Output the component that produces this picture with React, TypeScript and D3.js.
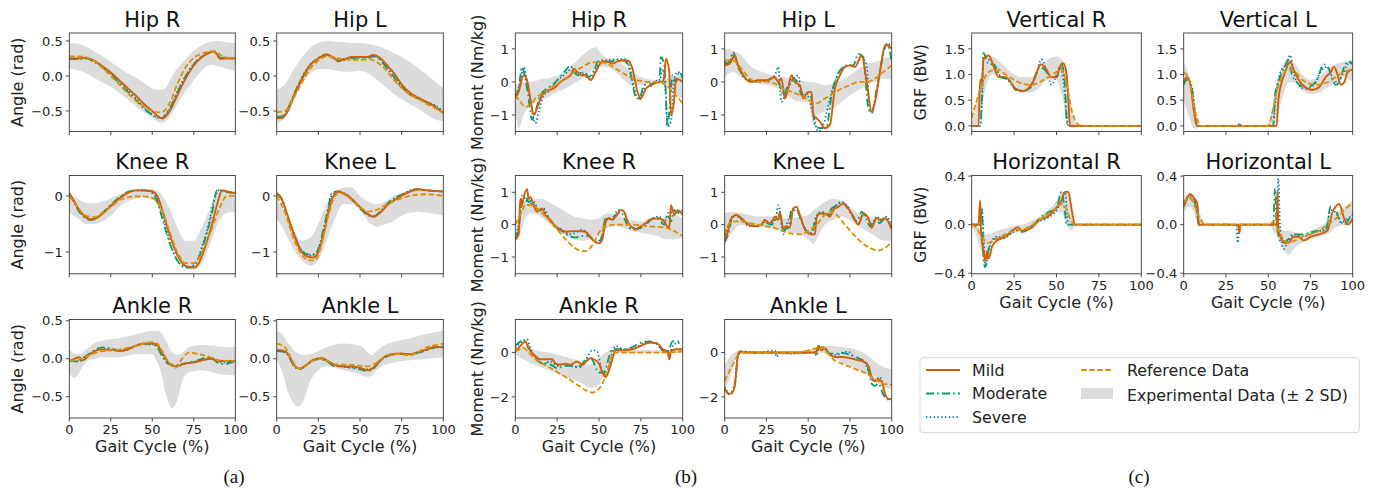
import React from "react";
import * as d3 from "d3";

type Pt = [number, number];
type Band = [number, number, number]; // [gait %, lower, upper]

// ---------- (a) joint angles (rad) ----------
const aHipR_band: Band[] = [[0,0.11,0.47],[5,0.08,0.46],[10,0.04,0.42],[15,-0.03,0.35],[20,-0.09,0.28],[25,-0.15,0.2],[30,-0.24,0.12],[35,-0.33,0.04],[40,-0.43,-0.02],[45,-0.52,-0.1],[50,-0.6,-0.18],[55,-0.67,-0.2],[58,-0.65,-0.17],[62,-0.53,0.0],[66,-0.37,0.13],[70,-0.22,0.24],[75,-0.06,0.36],[80,0.08,0.44],[85,0.16,0.49],[90,0.14,0.5],[95,0.1,0.48],[100,0.08,0.47]];
const aHipR_mild: Pt[] = [[0,0.25],[5,0.25],[10,0.26],[15,0.22],[20,0.14],[25,0.05],[30,-0.06],[35,-0.17],[40,-0.28],[45,-0.4],[50,-0.5],[53,-0.57],[56,-0.61],[58,-0.58],[61,-0.48],[65,-0.28],[70,-0.04],[75,0.15],[80,0.27],[84,0.33],[87,0.35],[89,0.31],[91,0.24],[93,0.25],[100,0.25]];
const aHipR_mod: Pt[] = [[0,0.24],[5,0.24],[10,0.25],[15,0.2],[20,0.12],[25,0.02],[30,-0.1],[35,-0.22],[40,-0.34],[45,-0.47],[50,-0.55],[53,-0.59],[56,-0.6],[58,-0.55],[61,-0.44],[65,-0.24],[70,-0.01],[75,0.17],[80,0.28],[84,0.33],[87,0.35],[89,0.31],[91,0.25],[93,0.26],[100,0.25]];
const aHipR_sev: Pt[] = [[0,0.25],[10,0.25],[20,0.13],[30,-0.08],[40,-0.32],[45,-0.45],[50,-0.56],[55,-0.6],[58,-0.56],[62,-0.4],[66,-0.18],[70,0.0],[75,0.17],[80,0.28],[87,0.35],[91,0.26],[100,0.26]];
const aHipR_ref: Pt[] = [[0,0.28],[5,0.28],[10,0.27],[15,0.21],[20,0.12],[25,0.0],[30,-0.12],[35,-0.24],[40,-0.35],[45,-0.44],[50,-0.5],[55,-0.52],[58,-0.48],[61,-0.36],[65,-0.12],[70,0.12],[75,0.26],[80,0.32],[85,0.35],[88,0.35],[92,0.28],[100,0.25]];

const aHipL_band: Band[] = [[0,-0.67,-0.2],[5,-0.6,-0.12],[10,-0.38,0.08],[15,-0.12,0.26],[20,0.03,0.4],[25,0.1,0.47],[30,0.1,0.5],[35,0.08,0.49],[40,0.06,0.48],[45,0.06,0.47],[50,0.07,0.47],[55,0.04,0.46],[60,-0.05,0.43],[65,-0.15,0.39],[70,-0.25,0.33],[75,-0.33,0.27],[80,-0.4,0.2],[85,-0.47,0.11],[90,-0.55,0.02],[95,-0.62,-0.08],[100,-0.65,-0.17]];
const aHipL_mild: Pt[] = [[0,-0.6],[3,-0.6],[6,-0.53],[10,-0.3],[15,-0.05],[20,0.15],[25,0.25],[30,0.31],[33,0.28],[37,0.22],[41,0.24],[45,0.27],[50,0.27],[54,0.27],[58,0.3],[62,0.26],[66,0.16],[70,0.05],[75,-0.12],[80,-0.24],[85,-0.31],[90,-0.37],[95,-0.44],[100,-0.53]];
const aHipL_mod: Pt[] = [[0,-0.58],[3,-0.58],[6,-0.5],[10,-0.28],[15,-0.04],[20,0.15],[25,0.26],[30,0.3],[33,0.27],[37,0.21],[41,0.25],[45,0.25],[50,0.27],[54,0.26],[58,0.28],[62,0.23],[66,0.12],[70,0.0],[75,-0.15],[80,-0.27],[85,-0.32],[90,-0.38],[95,-0.43],[100,-0.52]];
const aHipL_sev: Pt[] = [[0,-0.59],[4,-0.57],[8,-0.42],[12,-0.18],[18,0.1],[25,0.25],[30,0.3],[34,0.26],[38,0.21],[42,0.24],[48,0.26],[54,0.27],[58,0.29],[62,0.24],[68,0.06],[74,-0.13],[80,-0.26],[88,-0.35],[95,-0.42],[100,-0.51]];
const aHipL_ref: Pt[] = [[0,-0.52],[5,-0.5],[10,-0.32],[15,-0.1],[20,0.1],[25,0.22],[30,0.28],[35,0.26],[40,0.24],[45,0.23],[50,0.23],[55,0.24],[60,0.2],[65,0.1],[70,-0.05],[75,-0.17],[80,-0.27],[85,-0.33],[90,-0.4],[95,-0.46],[100,-0.53]];

const aKneeR_band: Band[] = [[0,-0.3,0.05],[5,-0.4,-0.05],[10,-0.5,-0.12],[15,-0.5,-0.13],[20,-0.45,-0.1],[25,-0.35,-0.04],[30,-0.2,0.02],[35,-0.1,0.06],[40,-0.05,0.1],[45,-0.02,0.12],[50,-0.05,0.12],[55,-0.3,0.04],[60,-0.7,-0.2],[65,-1.05,-0.55],[70,-1.25,-0.8],[75,-1.32,-0.8],[80,-1.2,-0.55],[85,-0.85,-0.2],[90,-0.45,0.12],[95,-0.3,0.1],[100,-0.28,0.02]];
const aKneeR_mild: Pt[] = [[0,0.05],[3,-0.1],[6,-0.25],[10,-0.38],[13,-0.42],[16,-0.4],[20,-0.32],[25,-0.18],[30,-0.05],[35,0.05],[40,0.1],[45,0.1],[50,0.08],[53,0.0],[56,-0.25],[60,-0.65],[65,-1.05],[70,-1.25],[75,-1.28],[78,-1.2],[82,-0.9],[86,-0.5],[90,-0.05],[92,0.1],[95,0.08],[100,0.05]];
const aKneeR_mod: Pt[] = [[0,0.05],[3,-0.12],[6,-0.28],[10,-0.4],[13,-0.43],[16,-0.4],[20,-0.3],[25,-0.16],[30,-0.03],[35,0.07],[40,0.1],[45,0.1],[50,0.05],[53,-0.1],[56,-0.4],[60,-0.8],[65,-1.15],[70,-1.28],[74,-1.27],[78,-1.1],[82,-0.75],[86,-0.3],[89,0.1],[92,0.1],[95,0.07],[100,0.05]];
const aKneeR_sev: Pt[] = [[0,0.04],[5,-0.22],[10,-0.39],[14,-0.42],[20,-0.31],[25,-0.17],[30,-0.04],[35,0.06],[40,0.1],[46,0.1],[50,0.06],[54,-0.12],[58,-0.55],[62,-0.95],[67,-1.22],[72,-1.27],[76,-1.2],[80,-0.9],[84,-0.5],[88,0.0],[90,0.1],[95,0.08],[100,0.05]];
const aKneeR_ref: Pt[] = [[0,0.0],[5,-0.2],[10,-0.35],[15,-0.38],[20,-0.3],[25,-0.2],[30,-0.08],[35,-0.03],[40,-0.01],[45,-0.01],[50,-0.04],[55,-0.2],[60,-0.6],[65,-1.0],[70,-1.2],[75,-1.2],[80,-1.0],[85,-0.65],[90,-0.25],[95,0.0],[100,0.0]];

const aKneeL_band: Band[] = [[0,-0.4,-0.05],[5,-0.65,-0.3],[10,-0.95,-0.6],[15,-1.15,-0.8],[20,-1.25,-0.75],[25,-1.15,-0.5],[30,-0.8,-0.15],[35,-0.4,0.05],[40,-0.15,0.15],[45,-0.15,0.15],[50,-0.25,0.0],[55,-0.45,-0.1],[60,-0.55,-0.15],[65,-0.5,-0.1],[70,-0.45,0.0],[75,-0.35,0.05],[80,-0.3,0.1],[85,-0.28,0.12],[90,-0.3,0.12],[95,-0.32,0.11],[100,-0.35,0.1]];
const aKneeL_mild: Pt[] = [[0,0.05],[3,-0.05],[6,-0.3],[10,-0.65],[14,-0.95],[18,-1.08],[22,-1.1],[25,-1.0],[28,-0.7],[31,-0.3],[34,0.0],[37,0.08],[40,0.05],[45,-0.05],[50,-0.2],[55,-0.33],[58,-0.37],[62,-0.3],[67,-0.15],[72,-0.05],[78,0.05],[85,0.12],[90,0.1],[100,0.08]];
const aKneeL_mod: Pt[] = [[0,0.05],[3,-0.07],[6,-0.32],[10,-0.65],[14,-0.93],[18,-1.04],[22,-1.05],[25,-0.95],[28,-0.6],[31,-0.2],[33,0.05],[36,0.08],[40,0.05],[45,-0.06],[50,-0.22],[55,-0.35],[58,-0.37],[62,-0.28],[67,-0.12],[72,-0.02],[78,0.06],[85,0.12],[90,0.1],[100,0.08]];
const aKneeL_sev: Pt[] = [[0,0.04],[4,-0.12],[8,-0.5],[12,-0.82],[16,-1.0],[20,-1.06],[24,-1.0],[27,-0.75],[30,-0.38],[33,0.0],[37,0.08],[42,0.02],[48,-0.15],[54,-0.32],[58,-0.36],[63,-0.26],[68,-0.1],[75,0.02],[83,0.12],[90,0.1],[100,0.08]];
const aKneeL_ref: Pt[] = [[0,0.0],[5,-0.3],[10,-0.75],[15,-1.05],[20,-1.15],[23,-1.15],[27,-0.85],[31,-0.35],[35,0.0],[38,0.05],[42,0.0],[46,-0.1],[50,-0.2],[55,-0.28],[60,-0.25],[65,-0.17],[70,-0.1],[80,0.0],[90,0.03],[100,0.0]];

const aAnkR_band: Band[] = [[0,-0.18,0.13],[3,-0.25,0.07],[6,-0.18,0.06],[10,-0.05,0.12],[15,0.0,0.2],[20,0.02,0.24],[30,0.02,0.27],[40,0.06,0.32],[50,0.06,0.37],[53,-0.05,0.37],[55,-0.15,0.35],[58,-0.45,0.25],[62,-0.65,0.08],[65,-0.55,0.05],[68,-0.3,0.08],[72,-0.18,0.15],[80,-0.15,0.18],[90,-0.2,0.16],[100,-0.22,0.15]];
const aAnkR_mild: Pt[] = [[0,-0.03],[3,0.0],[6,0.02],[8,-0.02],[12,0.05],[18,0.12],[25,0.12],[30,0.1],[35,0.12],[40,0.17],[45,0.2],[50,0.2],[53,0.18],[56,0.08],[60,-0.06],[64,-0.1],[70,-0.06],[75,-0.05],[80,-0.02],[85,0.0],[90,-0.03],[100,-0.03]];
const aAnkR_mod: Pt[] = [[0,-0.02],[3,-0.03],[6,-0.04],[9,0.02],[13,0.08],[18,0.14],[22,0.15],[26,0.13],[30,0.11],[35,0.13],[40,0.17],[45,0.2],[50,0.19],[53,0.15],[56,0.03],[60,-0.07],[65,-0.08],[70,-0.06],[75,-0.04],[80,0.0],[85,0.02],[90,-0.06],[93,-0.07],[100,-0.03]];
const aAnkR_sev: Pt[] = [[0,-0.03],[5,-0.03],[9,0.01],[14,0.08],[20,0.13],[28,0.11],[35,0.12],[42,0.19],[48,0.19],[52,0.18],[55,0.1],[59,-0.05],[64,-0.1],[72,-0.05],[80,-0.02],[86,0.0],[92,-0.05],[100,-0.04]];
const aAnkR_ref: Pt[] = [[0,-0.02],[5,-0.02],[10,0.03],[20,0.1],[30,0.12],[40,0.17],[45,0.2],[50,0.22],[53,0.2],[56,0.1],[60,-0.05],[64,-0.12],[68,0.0],[72,0.08],[78,0.06],[85,0.02],[90,-0.02],[100,-0.03]];

const aAnkL_band: Band[] = [[0,-0.02,0.37],[3,-0.15,0.33],[7,-0.45,0.2],[10,-0.58,0.12],[13,-0.63,0.07],[16,-0.55,0.05],[20,-0.3,0.06],[25,-0.15,0.1],[30,-0.1,0.15],[40,-0.15,0.2],[50,-0.2,0.17],[54,-0.24,0.1],[57,-0.22,0.05],[60,-0.15,0.1],[65,-0.08,0.18],[70,-0.05,0.22],[80,-0.02,0.27],[90,0.0,0.33],[100,0.02,0.37]];
const aAnkL_mild: Pt[] = [[0,0.12],[5,0.1],[8,0.02],[11,-0.1],[14,-0.13],[18,-0.08],[22,-0.01],[27,0.01],[30,-0.02],[35,-0.08],[40,-0.1],[45,-0.1],[50,-0.12],[55,-0.15],[58,-0.12],[62,-0.02],[66,0.04],[70,0.06],[75,0.07],[80,0.06],[85,0.09],[90,0.12],[95,0.16],[100,0.15]];
const aAnkL_mod: Pt[] = [[0,0.1],[5,0.09],[8,0.0],[11,-0.11],[14,-0.14],[18,-0.08],[22,-0.02],[27,0.0],[30,-0.03],[35,-0.1],[40,-0.1],[45,-0.12],[50,-0.14],[55,-0.16],[58,-0.13],[62,-0.03],[66,0.03],[70,0.06],[75,0.06],[80,0.05],[85,0.08],[90,0.11],[95,0.15],[100,0.16]];
const aAnkL_sev: Pt[] = [[0,0.11],[6,0.07],[10,-0.08],[14,-0.13],[19,-0.06],[25,0.0],[30,-0.03],[36,-0.09],[42,-0.11],[48,-0.12],[55,-0.14],[60,-0.08],[65,0.02],[72,0.06],[80,0.06],[88,0.1],[95,0.15],[100,0.15]];
const aAnkL_ref: Pt[] = [[0,0.2],[5,0.15],[10,-0.05],[13,-0.13],[17,-0.1],[22,-0.02],[27,0.0],[35,-0.07],[45,-0.08],[55,-0.1],[60,-0.05],[65,0.03],[70,0.07],[80,0.05],[90,0.15],[100,0.2]];

// ---------- (b) joint moments (Nm/kg) ----------
const bHipR_band: Band[] = [[0,-0.9,-0.1],[2,-1.4,-0.05],[5,-1.0,0.0],[10,-0.7,0.0],[15,-0.55,0.08],[20,-0.45,0.12],[25,-0.3,0.2],[30,-0.2,0.33],[35,-0.05,0.55],[40,0.1,0.8],[45,0.3,1.0],[48,0.42,1.05],[52,0.45,0.82],[55,0.45,0.72],[60,0.3,0.7],[65,0.05,0.5],[70,-0.1,0.3],[75,-0.1,0.15],[80,-0.05,0.08],[85,0.0,0.05],[90,-0.1,0.1],[95,-0.4,0.2],[100,-0.5,0.15]];
const bHipR_mild: Pt[] = [[0,-0.5],[2,-0.3],[5,0.2],[7,0.05],[9,-0.5],[11,-1.0],[13,-0.8],[16,-0.4],[20,-0.25],[23,-0.2],[27,0.0],[30,0.1],[33,0.2],[35,0.4],[37,0.3],[40,0.2],[42,0.2],[45,0.05],[48,0.3],[52,0.62],[55,0.62],[58,0.55],[61,0.62],[64,0.65],[67,0.65],[70,0.4],[73,-0.3],[75,-0.5],[78,-0.2],[82,-0.08],[86,0.0],[88,0.0],[89,0.2],[90,0.7],[92,0.3],[93,-1.0],[95,-0.5],[96,0.1],[100,0.0]];
const bHipR_mod: Pt[] = [[0,-0.45],[2,-0.2],[4,0.45],[6,0.1],[8,-0.5],[10,-1.15],[12,-0.9],[15,-0.4],[19,-0.2],[22,-0.1],[26,0.1],[30,0.35],[33,0.5],[35,0.3],[38,0.2],[41,0.3],[44,0.15],[47,0.35],[50,0.65],[54,0.6],[57,0.62],[61,0.65],[64,0.66],[67,0.55],[69,0.2],[72,-0.45],[74,-0.5],[77,-0.1],[82,-0.05],[86,0.05],[87,0.75],[89,0.5],[91,-1.35],[92,-0.9],[94,0.2],[96,0.0],[98,0.3],[100,0.1]];
const bHipR_sev: Pt[] = [[0,-0.4],[3,0.0],[5,0.45],[7,0.0],[9,-0.6],[12,-1.25],[14,-0.9],[17,-0.4],[21,-0.25],[25,0.05],[29,0.2],[32,0.35],[34,0.45],[36,0.3],[40,0.25],[44,0.1],[48,0.4],[51,0.65],[55,0.65],[60,0.68],[65,0.7],[68,0.5],[71,-0.2],[74,-0.55],[77,-0.2],[82,-0.1],[85,0.05],[86,-0.05],[88,0.4],[90,-0.5],[91,-1.35],[93,-1.2],[95,0.1],[97,0.3],[100,0.2]];
const bHipR_ref: Pt[] = [[0,-0.4],[3,-0.6],[6,-0.75],[9,-0.7],[12,-0.5],[18,-0.3],[25,-0.05],[30,0.1],[35,0.3],[40,0.45],[45,0.58],[50,0.6],[55,0.55],[60,0.4],[65,0.25],[70,0.1],[75,0.03],[80,0.0],[85,0.0],[90,-0.1],[95,-0.35],[100,-0.65]];

const bHipL_band: Band[] = [[0,0.15,1.0],[5,0.3,0.95],[10,0.15,0.8],[15,0.05,0.5],[20,-0.05,0.35],[25,-0.1,0.25],[30,-0.15,0.2],[35,-0.3,0.15],[40,-0.5,0.1],[45,-0.6,0.05],[50,-0.6,0.0],[53,-1.3,0.0],[56,-1.0,-0.05],[60,-0.9,-0.1],[65,-0.8,-0.05],[70,-0.6,0.05],[75,-0.4,0.2],[80,-0.25,0.4],[85,-0.1,0.55],[90,0.0,0.6],[95,0.1,0.7],[100,0.05,0.8]];
const bHipL_mild: Pt[] = [[0,0.5],[3,0.55],[6,0.8],[8,0.5],[10,0.3],[15,0.0],[20,0.05],[25,0.05],[30,0.15],[32,0.0],[34,0.1],[36,-0.5],[38,-0.2],[40,0.2],[42,0.0],[45,-0.1],[47,-0.5],[50,-0.3],[52,-0.3],[53,-1.0],[55,-1.1],[57,-1.2],[60,-1.4],[63,-1.3],[66,-0.2],[69,0.2],[72,0.45],[75,0.5],[78,0.45],[82,0.8],[85,0.0],[88,-0.9],[90,-0.6],[93,0.3],[96,1.1],[98,1.1],[100,1.0]];
const bHipL_mod: Pt[] = [[0,0.55],[3,0.6],[5,0.9],[8,0.45],[11,0.2],[15,0.05],[20,0.0],[25,0.05],[30,0.1],[33,-0.1],[35,-0.4],[38,-0.1],[41,0.1],[44,-0.05],[46,-0.4],[49,-0.35],[52,-0.5],[54,-1.3],[57,-1.4],[61,-1.35],[64,-0.4],[67,0.15],[70,0.4],[73,0.5],[77,0.5],[80,0.85],[83,0.75],[86,-0.8],[88,-0.95],[91,-0.2],[94,0.6],[97,1.15],[99,0.9],[100,0.6]];
const bHipL_sev: Pt[] = [[0,0.6],[3,0.6],[5,0.85],[8,0.5],[12,0.1],[18,0.0],[25,0.05],[30,0.2],[32,0.45],[34,-0.6],[37,-0.3],[40,0.0],[44,0.2],[46,-0.3],[50,-0.45],[53,-1.0],[56,-1.5],[59,-1.3],[63,-0.5],[66,0.0],[70,0.4],[74,0.5],[79,0.55],[82,0.75],[85,0.5],[87,-0.9],[89,-0.8],[92,0.0],[95,0.9],[98,1.15],[100,1.0]];
const bHipL_ref: Pt[] = [[0,0.65],[5,0.65],[10,0.4],[15,0.1],[20,0.0],[25,0.0],[30,-0.05],[35,-0.2],[40,-0.3],[45,-0.4],[50,-0.55],[55,-0.65],[60,-0.5],[65,-0.35],[70,-0.2],[75,-0.1],[80,0.0],[85,0.0],[90,0.1],[95,0.3],[100,0.5]];

const bKneeR_band: Band[] = [[0,-0.55,-0.2],[3,-0.3,0.4],[6,0.2,0.75],[10,0.35,0.8],[15,0.25,0.8],[20,0.05,0.7],[25,-0.15,0.55],[30,-0.35,0.4],[35,-0.45,0.25],[40,-0.5,0.2],[45,-0.45,0.15],[50,-0.35,0.2],[55,-0.1,0.35],[60,-0.05,0.3],[65,-0.1,0.2],[70,-0.2,0.15],[75,-0.25,0.1],[80,-0.3,0.1],[85,-0.35,0.15],[90,-0.45,0.25],[95,-0.45,0.3],[100,-0.4,0.2]];
const bKneeR_mild: Pt[] = [[0,-0.45],[2,-0.3],[3,0.8],[4,0.6],[5,0.85],[7,1.1],[8,0.8],[9,0.85],[11,0.6],[13,0.4],[16,0.5],[18,0.3],[21,0.15],[24,-0.05],[26,-0.12],[30,-0.22],[34,-0.2],[38,-0.2],[42,-0.22],[45,-0.4],[48,-0.55],[50,-0.58],[52,-0.45],[54,0.1],[56,0.2],[58,0.15],[60,0.25],[63,0.45],[65,0.4],[67,0.1],[70,-0.1],[72,-0.15],[75,-0.05],[78,0.05],[80,0.15],[85,0.2],[88,0.15],[92,-0.1],[93,0.6],[95,0.3],[97,0.45],[100,0.3]];
const bKneeR_mod: Pt[] = [[0,-0.45],[2,-0.1],[4,0.7],[6,0.9],[8,0.7],[10,0.75],[12,0.5],[15,0.45],[18,0.35],[21,0.1],[24,-0.1],[28,-0.2],[32,-0.35],[36,-0.4],[40,-0.35],[44,-0.35],[47,-0.5],[50,-0.55],[52,-0.3],[54,0.2],[57,0.2],[60,0.3],[63,0.38],[65,0.2],[68,-0.1],[71,-0.15],[75,-0.1],[80,0.1],[83,0.2],[86,0.15],[89,0.0],[91,0.3],[93,0.1],[95,0.45],[98,0.35],[100,0.4]];
const bKneeR_sev: Pt[] = [[0,-0.4],[2,0.0],[4,0.9],[6,0.8],[8,0.6],[11,0.7],[14,0.45],[17,0.5],[20,0.2],[24,-0.05],[28,-0.15],[32,-0.3],[36,-0.25],[40,-0.15],[43,-0.3],[46,-0.45],[49,-0.5],[52,-0.35],[55,0.2],[58,0.15],[61,0.45],[64,0.45],[66,0.25],[69,-0.1],[73,-0.1],[78,0.0],[82,0.2],[86,0.25],[89,0.1],[92,0.4],[95,0.35],[100,0.45]];
const bKneeR_ref: Pt[] = [[0,0.0],[3,0.3],[6,0.6],[10,0.6],[15,0.4],[20,0.15],[25,-0.15],[30,-0.45],[35,-0.7],[40,-0.82],[43,-0.8],[47,-0.55],[50,-0.25],[55,-0.02],[60,0.0],[70,0.0],[80,-0.05],[90,-0.1],[95,-0.2],[100,-0.35]];

const bKneeL_band: Band[] = [[0,-0.6,0.35],[5,-0.2,0.4],[10,0.0,0.35],[15,-0.05,0.3],[20,-0.05,0.25],[25,-0.1,0.25],[30,-0.15,0.25],[35,-0.2,0.2],[40,-0.25,0.2],[45,-0.3,0.25],[50,-0.45,0.3],[53,-0.6,0.45],[56,-0.35,0.55],[60,0.0,0.7],[65,0.15,0.8],[70,0.25,0.75],[75,0.15,0.55],[80,-0.05,0.35],[85,-0.2,0.25],[90,-0.35,0.2],[95,-0.5,0.2],[100,-0.5,0.1]];
const bKneeL_mild: Pt[] = [[0,-0.5],[2,-0.2],[4,0.2],[7,0.3],[10,0.2],[14,0.0],[18,-0.05],[22,0.0],[24,0.15],[26,0.05],[28,0.05],[30,0.25],[32,0.15],[33,0.4],[35,-0.1],[37,-0.05],[39,-0.1],[41,0.5],[43,0.55],[45,0.3],[48,-0.15],[52,-0.3],[54,-0.3],[55,0.2],[57,0.35],[60,0.35],[63,0.25],[65,0.45],[68,0.55],[71,0.65],[74,0.5],[77,0.25],[80,0.0],[83,0.35],[86,0.2],[88,-0.1],[91,0.2],[93,0.15],[96,0.2],[100,-0.15]];
const bKneeL_mod: Pt[] = [[0,-0.55],[2,-0.3],[5,0.25],[8,0.25],[11,0.15],[15,0.0],[20,-0.05],[25,0.05],[28,0.0],[31,0.2],[33,0.3],[35,-0.15],[38,-0.1],[40,0.45],[43,0.45],[46,0.1],[49,-0.2],[52,-0.3],[55,0.3],[58,0.35],[61,0.3],[64,0.5],[67,0.6],[70,0.7],[73,0.55],[76,0.3],[79,0.1],[82,0.4],[85,0.15],[87,-0.05],[90,0.15],[93,0.05],[96,0.2],[100,-0.1]];
const bKneeL_sev: Pt[] = [[0,-0.45],[3,0.1],[6,0.3],[10,0.15],[15,-0.05],[20,-0.05],[25,0.1],[29,0.1],[31,0.3],[32,0.6],[33,0.45],[35,-0.3],[37,0.0],[40,0.35],[42,0.55],[45,0.25],[48,-0.1],[52,-0.25],[55,0.25],[58,0.4],[62,0.3],[66,0.55],[70,0.7],[73,0.6],[76,0.35],[80,0.05],[83,0.3],[86,0.2],[88,0.0],[91,0.25],[94,0.1],[97,0.25],[100,-0.1]];
const bKneeL_ref: Pt[] = [[0,-0.3],[3,0.05],[6,0.1],[10,0.1],[15,0.05],[20,0.0],[25,-0.05],[30,-0.1],[35,-0.2],[40,-0.28],[45,-0.3],[50,-0.2],[55,0.0],[60,0.3],[63,0.4],[67,0.3],[72,0.0],[77,-0.3],[82,-0.55],[87,-0.72],[92,-0.8],[95,-0.75],[100,-0.55]];

const bAnkR_band: Band[] = [[0,-0.1,0.1],[5,-0.3,0.3],[10,-0.5,0.15],[15,-0.65,0.05],[20,-0.8,0.0],[25,-0.95,-0.1],[30,-1.1,-0.2],[35,-1.25,-0.3],[40,-1.4,-0.45],[45,-1.6,-0.55],[48,-1.55,-0.35],[52,-1.2,-0.1],[55,-0.6,0.05],[58,-0.05,0.12],[60,-0.02,0.12],[70,-0.02,0.12],[80,-0.02,0.12],[90,-0.02,0.12],[100,-0.02,0.12]];
const bAnkR_mild: Pt[] = [[0,0.05],[3,0.3],[6,0.5],[8,0.2],[11,-0.1],[15,-0.3],[18,-0.3],[22,-0.3],[24,-0.5],[27,-0.55],[30,-0.5],[33,-0.55],[37,-0.4],[40,-0.55],[43,-0.35],[45,-0.25],[47,-0.3],[50,-0.5],[52,-0.9],[54,-1.1],[56,-0.8],[58,-0.3],[60,0.1],[65,0.1],[70,0.15],[75,0.3],[80,0.45],[85,0.4],[88,0.15],[91,0.05],[92,-0.3],[93,0.05],[96,0.15],[100,0.15]];
const bAnkR_mod: Pt[] = [[0,0.3],[5,0.55],[8,0.2],[15,-0.45],[20,-0.5],[25,-0.7],[30,-0.6],[35,-0.6],[38,-0.7],[42,-0.3],[45,-0.25],[50,-0.9],[53,-0.9],[56,-0.2],[58,0.15],[65,0.15],[70,0.25],[75,0.45],[80,0.5],[85,0.4],[88,0.1],[91,0.05],[94,0.5],[100,0.5]];
const bAnkR_sev: Pt[] = [[0,0.2],[4,0.5],[7,0.6],[9,0.2],[13,-0.3],[17,-0.5],[21,-0.4],[25,-0.6],[29,-0.5],[33,-0.6],[37,-0.65],[40,-0.5],[43,-0.2],[46,0.1],[49,0.05],[51,-0.6],[54,-1.0],[56,-0.6],[58,0.0],[60,0.3],[65,0.15],[72,0.25],[78,0.45],[84,0.4],[88,0.1],[92,0.0],[95,0.4],[100,0.45]];
const bAnkR_ref: Pt[] = [[0,0.05],[5,0.2],[8,0.0],[12,-0.3],[20,-0.65],[30,-1.1],[38,-1.5],[42,-1.7],[46,-1.8],[49,-1.7],[52,-1.4],[55,-0.8],[58,-0.1],[60,0.0],[70,0.0],[80,0.0],[90,0.0],[100,0.05]];

const bAnkL_band: Band[] = [[0,-1.6,-0.6],[3,-1.2,-0.2],[6,-0.4,0.0],[8,-0.1,0.05],[10,-0.05,0.05],[20,-0.05,0.05],[40,-0.1,0.05],[50,-0.05,0.1],[55,0.0,0.25],[60,-0.05,0.3],[65,-0.2,0.3],[70,-0.45,0.25],[75,-0.6,0.2],[80,-0.8,0.1],[85,-1.0,-0.1],[90,-1.3,-0.4],[95,-1.55,-0.65],[100,-1.65,-0.75]];
const bAnkL_mild: Pt[] = [[0,-1.6],[2,-1.85],[4,-1.85],[6,-1.5],[8,-0.1],[9,0.05],[12,0.0],[20,0.0],[30,0.0],[40,0.0],[50,0.0],[55,0.0],[56,0.3],[58,0.1],[60,0.2],[63,-0.1],[66,-0.2],[70,-0.2],[75,-0.25],[80,-0.35],[83,-0.4],[86,-0.6],[88,-1.1],[90,-1.3],[92,-1.2],[94,-1.3],[96,-1.85],[98,-2.1],[100,-2.1]];
const bAnkL_mod: Pt[] = [[0,-1.6],[3,-1.9],[6,-1.5],[8,-0.1],[10,0.05],[20,0.0],[30,0.0],[40,0.0],[50,0.0],[54,0.0],[56,0.2],[58,0.25],[60,0.1],[63,-0.05],[67,-0.05],[70,0.0],[75,-0.1],[80,-0.25],[85,-0.5],[88,-1.4],[90,-1.5],[92,-1.4],[95,-1.9],[100,-2.2]];
const bAnkL_sev: Pt[] = [[0,-1.55],[3,-1.85],[6,-1.4],[8,-0.15],[10,0.05],[20,0.0],[30,0.1],[31,-0.2],[33,0.0],[40,-0.05],[50,0.0],[54,0.0],[55,-0.15],[57,0.3],[59,0.25],[62,0.0],[66,-0.1],[70,-0.05],[74,0.05],[78,-0.3],[83,-0.4],[86,-0.8],[89,-1.3],[91,-1.2],[93,-1.1],[96,-1.9],[100,-2.15]];
const bAnkL_ref: Pt[] = [[0,-1.3],[3,-0.8],[6,-0.4],[8,-0.1],[10,0.0],[20,0.0],[30,0.0],[40,0.0],[50,0.1],[55,0.2],[58,0.25],[62,-0.05],[65,-0.3],[70,-0.5],[75,-0.65],[80,-0.8],[85,-0.95],[90,-1.2],[95,-1.4],[100,-1.45]];

// ---------- (c) ground reaction forces (BW) ----------
const cVertR_band: Band[] = [[0,0.0,0.05],[2,0.0,0.3],[5,0.2,0.9],[8,0.7,1.35],[12,1.0,1.35],[18,1.0,1.2],[25,0.8,1.0],[30,0.65,0.95],[35,0.65,0.95],[40,0.75,1.1],[45,0.9,1.3],[50,0.9,1.35],[53,0.6,1.3],[56,0.15,1.0],[58,-0.02,0.5],[60,-0.05,0.15],[62,0.0,0.02],[65,0.0,0.0],[100,0.0,0.0]];
const cVertR_mild: Pt[] = [[0,0.0],[4,0.0],[5,0.9],[6,0.85],[7,1.3],[10,1.37],[13,1.15],[16,0.95],[20,0.95],[23,0.85],[26,0.72],[30,0.68],[33,0.72],[36,0.85],[39,1.1],[41,1.2],[44,1.1],[47,0.95],[50,0.95],[52,1.15],[54,1.22],[56,1.0],[57,0.5],[58,0.0],[100,0.0]];
const cVertR_mod: Pt[] = [[0,0.0],[5,0.0],[6,0.5],[7,1.42],[8,1.35],[10,1.2],[13,1.2],[17,0.95],[22,0.9],[26,0.7],[30,0.68],[35,0.75],[40,1.15],[43,1.1],[47,0.95],[50,0.95],[53,1.2],[55,0.8],[56,0.1],[57,0.0],[100,0.0]];
const cVertR_sev: Pt[] = [[0,0.0],[5,0.0],[6,0.4],[7,1.35],[9,1.3],[12,1.25],[16,1.0],[21,0.9],[26,0.72],[30,0.68],[34,0.75],[38,1.0],[41,1.3],[44,1.1],[47,0.8],[49,0.9],[52,1.15],[54,0.9],[56,0.2],[57,0.0],[100,0.0]];
const cVertR_ref: Pt[] = [[0,0.15],[3,0.5],[6,0.8],[10,1.05],[15,1.1],[20,1.0],[25,0.9],[30,0.82],[35,0.8],[40,0.85],[45,0.95],[50,1.05],[53,1.1],[56,0.8],[59,0.3],[62,0.05],[65,0.0],[100,0.0]];

const cVertL_band: Band[] = [[0,0.5,1.25],[3,0.2,1.0],[6,-0.05,0.5],[8,-0.05,0.05],[10,0.0,0.0],[50,0.0,0.0],[52,0.0,0.3],[55,0.15,0.8],[58,0.5,1.15],[62,0.85,1.3],[66,0.85,1.2],[70,0.7,1.0],[75,0.62,0.9],[80,0.65,0.95],[85,0.75,1.1],[90,0.85,1.2],[95,0.95,1.25],[100,0.85,1.3]];
const cVertL_mild: Pt[] = [[0,0.85],[2,0.95],[4,0.8],[6,0.3],[8,0.0],[55,0.0],[56,0.5],[58,0.85],[60,1.05],[63,1.25],[65,1.1],[68,0.9],[72,0.75],[76,0.7],[80,0.75],[84,0.95],[87,1.05],[89,1.15],[91,1.0],[93,0.8],[95,0.85],[97,1.05],[100,1.1]];
const cVertL_mod: Pt[] = [[0,0.8],[2,0.9],[5,0.7],[7,0.1],[8,0.0],[53,0.0],[54,0.6],[57,0.95],[60,1.15],[62,1.3],[64,1.0],[67,0.85],[72,0.75],[78,0.85],[83,1.2],[86,1.1],[88,0.9],[90,0.8],[92,0.85],[95,1.15],[97,1.25],[100,1.2]];
const cVertL_sev: Pt[] = [[0,0.85],[2,0.95],[5,0.75],[7,0.2],[8,0.0],[32,0.0],[33,0.06],[34,0.0],[53,0.0],[54,0.4],[56,0.9],[58,1.1],[61,1.2],[63,1.38],[65,1.05],[68,0.8],[72,0.72],[77,0.8],[82,1.1],[85,1.15],[88,0.95],[91,0.85],[94,1.0],[97,1.2],[100,1.25]];
const cVertL_ref: Pt[] = [[0,1.05],[3,0.9],[5,0.6],[7,0.25],[9,0.05],[11,0.0],[50,0.0],[52,0.2],[55,0.65],[58,0.95],[62,1.1],[66,1.05],[70,0.9],[75,0.82],[80,0.8],[85,0.85],[90,0.95],[95,1.05],[100,1.1]];

const cHorR_band: Band[] = [[0,-0.02,0.02],[3,-0.1,0.0],[5,-0.2,-0.04],[7,-0.25,-0.06],[9,-0.22,-0.08],[12,-0.15,-0.07],[15,-0.12,-0.05],[20,-0.1,-0.03],[25,-0.07,-0.01],[30,-0.05,0.0],[35,-0.02,0.03],[40,0.02,0.07],[45,0.05,0.12],[50,0.1,0.2],[53,0.1,0.27],[56,0.0,0.27],[58,-0.05,0.2],[60,-0.03,0.05],[62,0.0,0.0],[100,0.0,0.0]];
const cHorR_mild: Pt[] = [[0,0.0],[4,0.0],[5,0.2],[5.5,-0.05],[7,-0.22],[8,-0.3],[9,-0.22],[10,-0.28],[12,-0.18],[15,-0.13],[20,-0.1],[25,-0.04],[27,-0.02],[30,-0.05],[35,-0.03],[40,0.04],[45,0.07],[50,0.14],[53,0.2],[55,0.27],[57,0.27],[59,0.12],[61,0.0],[100,0.0]];
const cHorR_mod: Pt[] = [[0,0.0],[5,0.0],[6,0.13],[7,-0.3],[8,-0.35],[10,-0.2],[13,-0.12],[18,-0.12],[25,-0.04],[30,-0.06],[35,-0.02],[40,0.05],[45,0.1],[50,0.14],[53,0.27],[55,0.1],[56,0.0],[100,0.0]];
const cHorR_sev: Pt[] = [[0,0.0],[5,0.0],[6,0.14],[7,-0.1],[8,-0.35],[10,-0.22],[14,-0.1],[20,-0.1],[26,-0.05],[32,-0.04],[38,0.02],[44,0.05],[50,0.12],[53,0.2],[55,0.27],[57,0.0],[100,0.0]];
const cHorR_ref: Pt[] = [[0,0.0],[3,-0.03],[5,-0.08],[8,-0.14],[10,-0.15],[14,-0.12],[20,-0.08],[25,-0.05],[30,-0.04],[35,-0.01],[40,0.04],[45,0.09],[50,0.14],[53,0.17],[55,0.15],[58,0.05],[61,0.0],[100,0.0]];

const cHorL_band: Band[] = [[0,0.1,0.2],[3,0.15,0.26],[6,0.1,0.25],[9,-0.02,0.12],[12,0.0,0.02],[15,0.0,0.0],[50,0.0,0.0],[53,-0.05,0.02],[56,-0.12,0.0],[59,-0.2,-0.05],[62,-0.25,-0.05],[65,-0.2,-0.06],[70,-0.15,-0.08],[75,-0.12,-0.05],[80,-0.1,-0.02],[85,-0.08,0.03],[90,-0.02,0.1],[95,0.0,0.15],[100,0.02,0.2]];
const cHorL_mild: Pt[] = [[0,0.15],[2,0.22],[4,0.25],[6,0.22],[8,0.18],[9,0.0],[32,0.0],[33,-0.07],[33.5,0.0],[55,0.0],[55.5,0.28],[56,-0.05],[58,-0.12],[60,-0.15],[62,-0.15],[65,-0.1],[68,-0.1],[71,-0.13],[75,-0.1],[80,-0.08],[85,-0.05],[88,0.1],[90,0.15],[92,0.17],[95,0.05],[97,0.0],[100,0.05]];
const cHorL_mod: Pt[] = [[0,0.15],[3,0.22],[6,0.2],[8,0.08],[9,0.0],[53,0.0],[54,0.3],[55,0.0],[58,-0.15],[62,-0.12],[65,-0.08],[70,-0.08],[80,-0.05],[84,-0.05],[87,0.15],[90,0.12],[92,0.05],[95,0.0],[98,0.05],[100,0.08]];
const cHorL_sev: Pt[] = [[0,0.16],[3,0.23],[6,0.21],[8,0.1],[9,0.0],[31,0.0],[32,-0.15],[33,0.0],[55,0.0],[56,0.38],[57,0.0],[59,-0.2],[62,-0.13],[65,-0.08],[70,-0.1],[78,-0.06],[84,-0.04],[87,0.12],[90,0.1],[93,0.02],[97,0.05],[100,0.08]];
const cHorL_ref: Pt[] = [[0,0.18],[3,0.22],[5,0.2],[8,0.1],[11,0.02],[13,0.0],[50,0.0],[53,0.02],[55,-0.02],[58,-0.1],[62,-0.15],[66,-0.13],[70,-0.1],[75,-0.08],[80,-0.05],[85,0.0],[90,0.05],[95,0.12],[100,0.18]];

// ---------- axes ticks / labels ----------
const gaitTicks = [0, 25, 50, 75, 100];
const hipAngTicks = [-0.5, 0, 0.5];
const kneeAngTicks = [-1, 0];
const ankAngTicks = [-0.5, 0, 0.5];
const momTicks = [-1, 0, 1];
const ankMomTicks = [-2, 0];
const vertTicks = [0, 0.5, 1, 1.5];
const horTicks = [-0.4, 0, 0.4];
const legendNames = ["Mild", "Moderate", "Severe", "Reference Data", "Experimental Data (\u00b1 2 SD)"];

const COLORS = { mild: "#d55e00", mod: "#029e73", sev: "#0173b2", ref: "#de8f05", band: "#dcdcdc" };
const FONT = "DejaVu Sans, Verdana, sans-serif";
const DASH = { mod: "8,3.2,1.6,3.2", sev: "1.4,2.4", ref: "5.5,2.6" };

const ROW_TOP = [33, 175.5, 319.5];
const ROW_H = [98.5, 98.3, 98.5];

type Spec = {
  key: string; x0: number; x1: number; row: number; title: string;
  dom: [number, number]; ticks: number[]; fmt: string;
  band: Band[]; ref: Pt[]; mild: Pt[]; mod: Pt[]; sev: Pt[];
  xLab: boolean; yLab?: string; yLabX?: number;
};

const A1: [number, number] = [69.3, 235.3], A2: [number, number] = [276.7, 443.3];
const B1: [number, number] = [515.3, 682.7], B2: [number, number] = [724.7, 891.7];
const C1: [number, number] = [971.7, 1141.3], C2: [number, number] = [1183.7, 1352.7];

const specs: Spec[] = [
  { key: "a00", x0: A1[0], x1: A1[1], row: 0, title: "Hip R", dom: [-0.794, 0.614], ticks: hipAngTicks, fmt: ".1f", band: aHipR_band, ref: aHipR_ref, mild: aHipR_mild, mod: aHipR_mod, sev: aHipR_sev, xLab: false, yLab: "Angle (rad)", yLabX: 17.5 },
  { key: "a01", x0: A2[0], x1: A2[1], row: 0, title: "Hip L", dom: [-0.794, 0.614], ticks: hipAngTicks, fmt: ".1f", band: aHipL_band, ref: aHipL_ref, mild: aHipL_mild, mod: aHipL_mod, sev: aHipL_sev, xLab: false },
  { key: "a10", x0: A1[0], x1: A1[1], row: 1, title: "Knee R", dom: [-1.39, 0.365], ticks: kneeAngTicks, fmt: ".0f", band: aKneeR_band, ref: aKneeR_ref, mild: aKneeR_mild, mod: aKneeR_mod, sev: aKneeR_sev, xLab: false, yLab: "Angle (rad)", yLabX: 17.5 },
  { key: "a11", x0: A2[0], x1: A2[1], row: 1, title: "Knee L", dom: [-1.39, 0.365], ticks: kneeAngTicks, fmt: ".0f", band: aKneeL_band, ref: aKneeL_ref, mild: aKneeL_mild, mod: aKneeL_mod, sev: aKneeL_sev, xLab: false },
  { key: "a20", x0: A1[0], x1: A1[1], row: 2, title: "Ankle R", dom: [-0.78, 0.517], ticks: ankAngTicks, fmt: ".1f", band: aAnkR_band, ref: aAnkR_ref, mild: aAnkR_mild, mod: aAnkR_mod, sev: aAnkR_sev, xLab: true, yLab: "Angle (rad)", yLabX: 17.5 },
  { key: "a21", x0: A2[0], x1: A2[1], row: 2, title: "Ankle L", dom: [-0.78, 0.517], ticks: ankAngTicks, fmt: ".1f", band: aAnkL_band, ref: aAnkL_ref, mild: aAnkL_mild, mod: aAnkL_mod, sev: aAnkL_sev, xLab: true },

  { key: "b00", x0: B1[0], x1: B1[1], row: 0, title: "Hip R", dom: [-1.5, 1.48], ticks: momTicks, fmt: ".0f", band: bHipR_band, ref: bHipR_ref, mild: bHipR_mild, mod: bHipR_mod, sev: bHipR_sev, xLab: false, yLab: "Moment (Nm/kg)", yLabX: 477 },
  { key: "b01", x0: B2[0], x1: B2[1], row: 0, title: "Hip L", dom: [-1.5, 1.48], ticks: momTicks, fmt: ".0f", band: bHipL_band, ref: bHipL_ref, mild: bHipL_mild, mod: bHipL_mod, sev: bHipL_sev, xLab: false },
  { key: "b10", x0: B1[0], x1: B1[1], row: 1, title: "Knee R", dom: [-1.52, 1.52], ticks: momTicks, fmt: ".0f", band: bKneeR_band, ref: bKneeR_ref, mild: bKneeR_mild, mod: bKneeR_mod, sev: bKneeR_sev, xLab: false, yLab: "Moment (Nm/kg)", yLabX: 477 },
  { key: "b11", x0: B2[0], x1: B2[1], row: 1, title: "Knee L", dom: [-1.52, 1.52], ticks: momTicks, fmt: ".0f", band: bKneeL_band, ref: bKneeL_ref, mild: bKneeL_mild, mod: bKneeL_mod, sev: bKneeL_sev, xLab: false },
  { key: "b20", x0: B1[0], x1: B1[1], row: 2, title: "Ankle R", dom: [-2.95, 1.49], ticks: ankMomTicks, fmt: ".0f", band: bAnkR_band, ref: bAnkR_ref, mild: bAnkR_mild, mod: bAnkR_mod, sev: bAnkR_sev, xLab: true, yLab: "Moment (Nm/kg)", yLabX: 477 },
  { key: "b21", x0: B2[0], x1: B2[1], row: 2, title: "Ankle L", dom: [-2.95, 1.49], ticks: ankMomTicks, fmt: ".0f", band: bAnkL_band, ref: bAnkL_ref, mild: bAnkL_mild, mod: bAnkL_mod, sev: bAnkL_sev, xLab: true },

  { key: "c00", x0: C1[0], x1: C1[1], row: 0, title: "Vertical R", dom: [-0.11, 1.81], ticks: vertTicks, fmt: ".1f", band: cVertR_band, ref: cVertR_ref, mild: cVertR_mild, mod: cVertR_mod, sev: cVertR_sev, xLab: false, yLab: "GRF (BW)", yLabX: 920 },
  { key: "c01", x0: C2[0], x1: C2[1], row: 0, title: "Vertical L", dom: [-0.11, 1.81], ticks: vertTicks, fmt: ".1f", band: cVertL_band, ref: cVertL_ref, mild: cVertL_mild, mod: cVertL_mod, sev: cVertL_sev, xLab: false },
  { key: "c10", x0: C1[0], x1: C1[1], row: 1, title: "Horizontal R", dom: [-0.405, 0.405], ticks: horTicks, fmt: ".1f", band: cHorR_band, ref: cHorR_ref, mild: cHorR_mild, mod: cHorR_mod, sev: cHorR_sev, xLab: true, yLab: "GRF (BW)", yLabX: 920 },
  { key: "c11", x0: C2[0], x1: C2[1], row: 1, title: "Horizontal L", dom: [-0.405, 0.405], ticks: horTicks, fmt: ".1f", band: cHorL_band, ref: cHorL_ref, mild: cHorL_mild, mod: cHorL_mod, sev: cHorL_sev, xLab: true },
];

function Panel({ s }: { s: Spec }) {
  const top = ROW_TOP[s.row];
  const bot = top + ROW_H[s.row];
  const x = d3.scaleLinear().domain([0, 100]).range([s.x0, s.x1]);
  const y = d3.scaleLinear().domain(s.dom).range([bot, top]);
  const line = d3.line<Pt>().x(d => x(d[0])).y(d => y(d[1])).curve(d3.curveMonotoneX);
  const area = d3.area<Band>().x(d => x(d[0])).y0(d => y(d[1])).y1(d => y(d[2])).curve(d3.curveMonotoneX);
  const fmt = d3.format(s.fmt);
  const clip = `clip-${s.key}`;

  return (
    <g>
      <defs>
        <clipPath id={clip}>
          <rect x={s.x0} y={top} width={s.x1 - s.x0} height={bot - top} />
        </clipPath>
      </defs>
      <g clipPath={`url(#${clip})`}>
        <path d={area(s.band) || ""} fill={COLORS.band} />
        <path d={line(s.sev) || ""} fill="none" stroke={COLORS.sev} strokeWidth={1.7} strokeDasharray={DASH.sev} />
        <path d={line(s.mod) || ""} fill="none" stroke={COLORS.mod} strokeWidth={1.8} strokeDasharray={DASH.mod} />
        <path d={line(s.mild) || ""} fill="none" stroke={COLORS.mild} strokeWidth={1.9} />
        <path d={line(s.ref) || ""} fill="none" stroke={COLORS.ref} strokeWidth={1.8} strokeDasharray={DASH.ref} />
      </g>
      <rect x={s.x0} y={top} width={s.x1 - s.x0} height={bot - top} fill="none" stroke="#3a3a3a" strokeWidth={0.9} />

      {gaitTicks.map(t => (
        <g key={`x${t}`}>
          <line x1={x(t)} x2={x(t)} y1={bot} y2={bot + 3.5} stroke="#3a3a3a" strokeWidth={0.9} />
          {s.xLab && (
            <text x={x(t)} y={bot + 16} textAnchor="middle" fontSize={13} fontFamily={FONT} fill="#222">{t}</text>
          )}
        </g>
      ))}
      {s.ticks.map(t => (
        <g key={`y${t}`}>
          <line x1={s.x0 - 3.5} x2={s.x0} y1={y(t)} y2={y(t)} stroke="#3a3a3a" strokeWidth={0.9} />
          <text x={s.x0 - 6.5} y={y(t)} dy="0.36em" textAnchor="end" fontSize={13} fontFamily={FONT} fill="#222">{fmt(t)}</text>
        </g>
      ))}
      <text x={(s.x0 + s.x1) / 2} y={top - 6.5} textAnchor="middle" fontSize={21} fontFamily={FONT} fill="#111">{s.title}</text>
      {s.xLab && (
        <text x={(s.x0 + s.x1) / 2} y={bot + 34} textAnchor="middle" fontSize={16} fontFamily={FONT} fill="#222">Gait Cycle (%)</text>
      )}
      {s.yLab && (
        <text transform={`translate(${s.yLabX},${(top + bot) / 2}) rotate(-90)`} textAnchor="middle" dy="0.35em" fontSize={16} fontFamily={FONT} fill="#222">{s.yLab}</text>
      )}
    </g>
  );
}

function Legend() {
  const bx = 920, by = 357.7, bw = 439.3, bh = 75;
  const rows = [370, 393.5, 417.2];
  const lx0 = 926, lx1 = 960, tx = 972;
  const rx0 = 1081, rx1 = 1113, rtx = 1127;
  return (
    <g fontFamily={FONT} fontSize={15.8} fill="#222">
      <rect x={bx} y={by} width={bw} height={bh} rx={3} fill="#fff" stroke="#d8d8d8" strokeWidth={1} />
      <line x1={lx0} x2={lx1} y1={rows[0]} y2={rows[0]} stroke={COLORS.mild} strokeWidth={1.9} />
      <text x={tx} y={rows[0]} dy="0.36em">{legendNames[0]}</text>
      <line x1={lx0} x2={lx1} y1={rows[1]} y2={rows[1]} stroke={COLORS.mod} strokeWidth={1.8} strokeDasharray={DASH.mod} />
      <text x={tx} y={rows[1]} dy="0.36em">{legendNames[1]}</text>
      <line x1={lx0} x2={lx1} y1={rows[2]} y2={rows[2]} stroke={COLORS.sev} strokeWidth={1.7} strokeDasharray={DASH.sev} />
      <text x={tx} y={rows[2]} dy="0.36em">{legendNames[2]}</text>
      <line x1={rx0} x2={rx1} y1={rows[0]} y2={rows[0]} stroke={COLORS.ref} strokeWidth={1.8} strokeDasharray={DASH.ref} />
      <text x={rtx} y={rows[0]} dy="0.36em">{legendNames[3]}</text>
      <rect x={rx0} y={rows[1] - 5.5} width={rx1 - rx0} height={11} fill={COLORS.band} />
      <text x={rtx} y={rows[1] + 1.5} dy="0.36em">{legendNames[4]}</text>
    </g>
  );
}

export default function App() {
  return (
    <div style={{ position: "absolute", left: 0, top: 0 }}>
      <svg width={1378} height={489} style={{ display: "block", background: "#fff" }}>
        <rect width={1378} height={489} fill="#fff" />
        {specs.map(s => <Panel key={s.key} s={s} />)}
        <Legend />
        <g fontFamily="Liberation Serif, Times New Roman, serif" fontSize={19} fill="#111" textAnchor="middle">
          <text x={234} y={483}>(a)</text>
          <text x={686} y={483}>(b)</text>
          <text x={1139} y={483}>(c)</text>
        </g>
      </svg>
    </div>
  );
}
